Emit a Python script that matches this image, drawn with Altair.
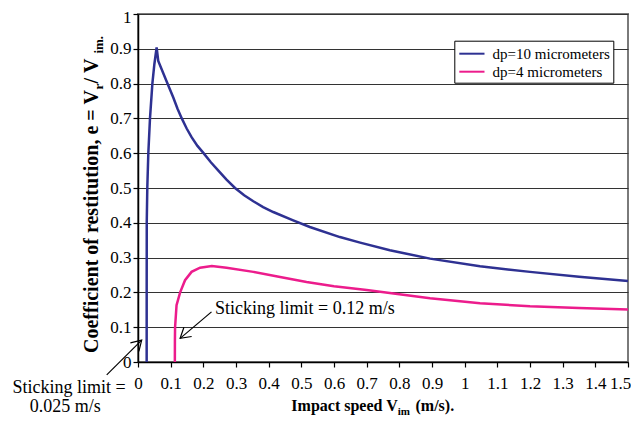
import altair as alt
import pandas as pd

# ---------------- data ----------------
series_names = ["dp=10 micrometers", "dp=4 micrometers"]
series_colors = ["#2E3192", "#EC1C8C"]

dp10_speed = [0.0265, 0.0266, 0.0268, 0.0285, 0.0316, 0.0367, 0.044, 0.050, 0.057,
              0.062, 0.083, 0.108, 0.121, 0.134, 0.149, 0.164, 0.182, 0.200, 0.223,
              0.246, 0.271, 0.297, 0.325, 0.353, 0.383, 0.414, 0.475, 0.526, 0.618,
              0.680, 0.771, 0.894, 1.047, 1.200, 1.350, 1.500]
dp10_e = [0.0, 0.20, 0.402, 0.502, 0.600, 0.700, 0.800, 0.855, 0.904,
          0.865, 0.817, 0.760, 0.728, 0.700, 0.671, 0.646, 0.621, 0.601, 0.574,
          0.550, 0.524, 0.500, 0.479, 0.462, 0.445, 0.431, 0.407, 0.388, 0.359,
          0.343, 0.321, 0.297, 0.275, 0.259, 0.245, 0.233]

dp4_speed = [0.1128, 0.1130, 0.1135, 0.118, 0.129, 0.144, 0.164, 0.190, 0.226,
             0.271, 0.353, 0.435, 0.516, 0.600, 0.700, 0.800, 0.894, 1.047,
             1.200, 1.350, 1.500]
dp4_e = [0.0, 0.06, 0.10, 0.163, 0.200, 0.235, 0.259, 0.271, 0.276,
         0.271, 0.259, 0.244, 0.230, 0.218, 0.207, 0.195, 0.183, 0.169,
         0.160, 0.155, 0.151]

x_ticks = [0, 0.1, 0.2, 0.3, 0.4, 0.5, 0.6, 0.7, 0.8, 0.9, 1.0, 1.1, 1.2, 1.3, 1.4, 1.5]
y_ticks = [0, 0.1, 0.2, 0.3, 0.4, 0.5, 0.6, 0.7, 0.8, 0.9, 1.0]

# annotations (data coordinates)
ann_left_text = ["Sticking limit = 0.12 m/s"]
ann_left_x = [0.236]
ann_left_y = [0.152]
ann_center_text = ["Sticking limit =", "0.025 m/s"]
ann_center_x = [-0.211, -0.223]
ann_center_y = [-0.0745, -0.129]
arrow_x = [0.225, -0.0958]
arrow_y = [0.144, -0.0372]
arrow_x2 = [0.129, 0.0113]
arrow_y2 = [0.068, 0.063]
arrow_angle = [140, 315]

FONT = "Liberation Serif"

# ---------------- tables ----------------
rows = []
for i, (sx, sy) in enumerate(zip(dp10_speed, dp10_e)):
    rows.append({"x": sx, "y": sy, "series": series_names[0], "order": i})
for i, (sx, sy) in enumerate(zip(dp4_speed, dp4_e)):
    rows.append({"x": sx, "y": sy, "series": series_names[1], "order": i})
curves = pd.DataFrame(rows)

ann_l = pd.DataFrame({"x": ann_left_x, "y": ann_left_y, "text": ann_left_text})
ann_c = pd.DataFrame({"x": ann_center_x, "y": ann_center_y, "text": ann_center_text})
arrows = pd.DataFrame({"x": arrow_x, "y": arrow_y, "x2": arrow_x2, "y2": arrow_y2,
                       "angle": arrow_angle})

xscale = alt.Scale(domain=[0, 1.5], nice=False)
yscale = alt.Scale(domain=[0, 1], nice=False)
xaxis = alt.Axis(values=x_ticks, format=".1~f", title=None, grid=False,
                 tickSize=5, labelPadding=8, labelFlush=False, labelOverlap=False,
                 labelOffset={"condition": {"test": "datum.value >= 1.45", "value": -8},
                              "value": 0},
                 labelFont=FONT, labelFontSize=17, labelColor="black")
yaxis = alt.Axis(values=y_ticks, format=".1~f", title=None, grid=True,
                 tickSize=5, labelPadding=2, labelOverlap=False,
                 labelOffset={"condition": {"test": "datum.value >= 0.95", "value": 3},
                              "value": 0},
                 labelFont=FONT, labelFontSize=17, labelColor="black")
X = alt.X("x:Q", scale=xscale, axis=xaxis)
Y = alt.Y("y:Q", scale=yscale, axis=yaxis)

lines = alt.Chart(curves).mark_line(strokeWidth=2.5).encode(
    x=X, y=Y,
    color=alt.Color("series:N",
                    scale=alt.Scale(domain=series_names, range=series_colors),
                    legend=alt.Legend(orient="none", legendX=316.3, legendY=26.7,
                                      title=None, fillColor="white",
                                      strokeColor="black", padding=3,
                                      symbolType="M -1.4 0 L 1.4 0", symbolSize=324,
                                      symbolStrokeWidth=2, symbolOffset=4.6,
                                      labelFont=FONT, labelFontSize=15,
                                      labelColor="black", rowPadding=0,
                                      labelOffset=10.7, labelLimit=300)),
    order="order:Q",
)

txt_l = alt.Chart(ann_l).mark_text(font=FONT, fontSize=18, align="left",
                                   baseline="middle", color="black", clip=False).encode(
    x=X, y=Y, text="text:N")
txt_c = alt.Chart(ann_c).mark_text(font=FONT, fontSize=18, align="center",
                                   baseline="middle", color="black", clip=False).encode(
    x=X, y=Y, text="text:N")
shafts = alt.Chart(arrows).mark_rule(color="black", strokeWidth=1.2, clip=False).encode(
    x=X, y=Y, x2="x2:Q", y2="y2:Q")
heads = alt.Chart(arrows).mark_point(shape="M -1 -0.6 L 0 0 L -1 0.6", size=400,
                                     filled=False, color="black", strokeWidth=1.2,
                                     opacity=1, clip=False).encode(
    x=alt.X("x2:Q", scale=xscale, axis=xaxis),
    y=alt.Y("y2:Q", scale=yscale, axis=yaxis),
    angle=alt.Angle("angle:Q", scale=None))

# axis titles with subscripts (pixel positions relative to plot area)
NB = "\u00a0"
xt = pd.DataFrame({"t": ["title"]})


def seg(text, size, x, y, angle=0, align="left"):
    kw = dict(text=text, font=FONT, fontSize=size, fontWeight="bold", align=align,
              baseline="alphabetic", color="black")
    if angle:
        kw["angle"] = angle
    return alt.Chart(xt).mark_text(**kw).encode(x=alt.value(x), y=alt.value(y))


x_title = alt.layer(
    seg("Impact speed V", 16, 259.7, 397, align="right"),
    seg("im", 11, 259.7, 401),
    seg("(m/s).", 16, 277.5, 397),
)
y_title = alt.layer(
    seg("Coefficient of restitution, e = V", 20, -39.7, 339, 270),
    seg("r", 13, -35.2, 75.4, 270),
    seg(NB + "/" + NB + "V", 20, -39.7, 69.6, 270),
    seg("im.", 13, -35.2, 39.6, 270),
)

chart = alt.layer(lines, txt_l, txt_c, shafts, heads, x_title, y_title).properties(
    width=490, height=348,
    autosize=alt.AutoSizeParams(type="none"),
    padding={"left": 130, "top": 6, "right": 3, "bottom": 54},
).configure(
    font=FONT,
    style={"guide-label": {"font": FONT, "fontSize": 17, "fill": "black"}},
).configure_view(
    stroke="#7a7a7a", strokeWidth=2,
).configure_axis(
    domainColor="black", domainWidth=1.5, tickColor="black", tickWidth=1.2,
    labelFont=FONT, labelFontSize=17, labelColor="black",
    gridColor="#333333", gridWidth=1, gridOpacity=1,
).configure_legend(
    labelFont=FONT, labelFontSize=15,
)

chart.save("out.html", embed_options={"renderer": "svg", "actions": False})
